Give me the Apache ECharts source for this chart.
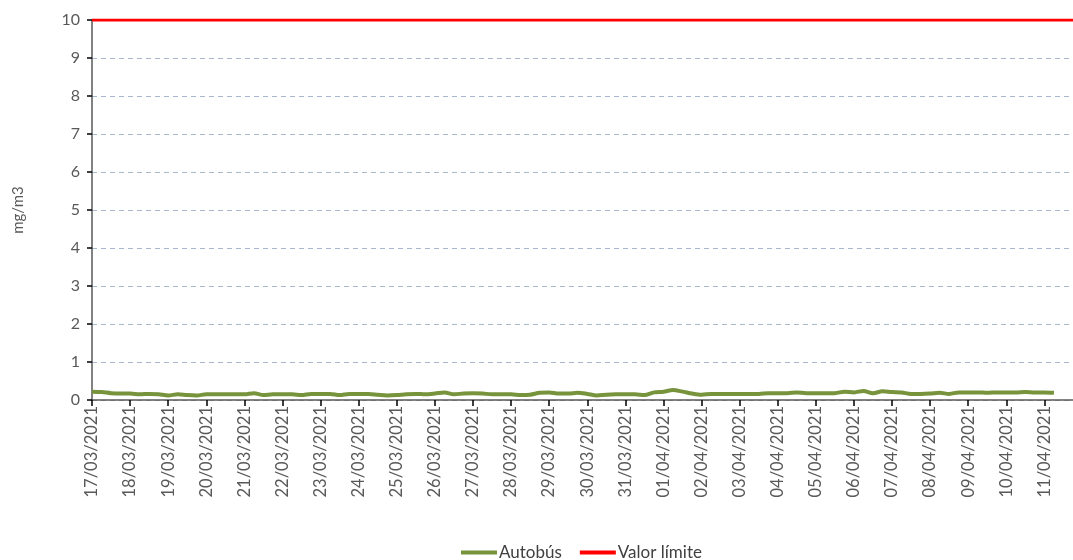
<!DOCTYPE html>
<html>
<head>
<meta charset="utf-8">
<script src="https://cdn.jsdelivr.net/npm/echarts@6/dist/echarts.min.js"></script>
<style>
  html, body { margin: 0; padding: 0; background: #fff; }
  #chart { width: 1073px; height: 560px; }
</style>
</head>
<body>
<div id="chart"></div>
<script>
// días mostrados en el eje X
const days = [
  '17/03/2021', '18/03/2021', '19/03/2021', '20/03/2021', '21/03/2021',
  '22/03/2021', '23/03/2021', '24/03/2021', '25/03/2021', '26/03/2021',
  '27/03/2021', '28/03/2021', '29/03/2021', '30/03/2021', '31/03/2021',
  '01/04/2021', '02/04/2021', '03/04/2021', '04/04/2021', '05/04/2021',
  '06/04/2021', '07/04/2021', '08/04/2021', '09/04/2021', '10/04/2021',
  '11/04/2021'
]
// horas de cada lectura dentro del día
const hours = ['00:00', '06:00', '12:00', '18:00']

// Autobús (mg/m3), 4 lecturas por día
const autobus = [
  [0.22, 0.21, 0.18, 0.17],
  [0.17, 0.15, 0.16, 0.15],
  [0.12, 0.15, 0.13, 0.12],
  [0.15, 0.15, 0.15, 0.15],
  [0.15, 0.18, 0.13, 0.15],
  [0.15, 0.15, 0.13, 0.16],
  [0.16, 0.16, 0.13, 0.16],
  [0.16, 0.16, 0.14, 0.12],
  [0.13, 0.15, 0.16, 0.15],
  [0.17, 0.2, 0.15, 0.17],
  [0.18, 0.17, 0.15, 0.15],
  [0.15, 0.13, 0.14, 0.19],
  [0.2, 0.17, 0.17, 0.19],
  [0.16, 0.12, 0.14, 0.15],
  [0.15, 0.15, 0.13, 0.2],
  [0.22, 0.26, 0.22, 0.17],
  [0.14, 0.16, 0.16, 0.16],
  [0.16, 0.16, 0.16, 0.18],
  [0.18, 0.18, 0.2, 0.18],
  [0.18, 0.18, 0.18, 0.22],
  [0.2, 0.24, 0.18, 0.23],
  [0.21, 0.2, 0.16, 0.16],
  [0.17, 0.19, 0.16, 0.2],
  [0.2, 0.2, 0.19, 0.2],
  [0.2, 0.2, 0.21, 0.2],
  [0.2, 0.19, null, null]
]
const limite = 10

const categories = []
days.forEach((d) => {
  hours.forEach((h) => categories.push(d + ' ' + h))
})
const autobusData = autobus.flat()
const limiteData = categories.map(() => limite)

const axisGray = '#595959'
const textGray = '#595959'

const myChart = echarts.init(document.getElementById('chart'))
myChart.setOption({
  animation: false,
  textStyle: { fontFamily: 'Lato, sans-serif' },
  grid: {
    left: 92,
    right: 0,
    top: 20,
    bottom: 160
  },
  legend: {
    top: 539,
    left: 456,
    itemWidth: 36,
    itemHeight: 4,
    itemGap: 18,
    icon: 'rect',
    textStyle: { color: '#404040', fontSize: 17, padding: [0, 0, 0, -3] },
    data: ['Autobús', 'Valor límite']
  },
  xAxis: {
    type: 'category',
    boundaryGap: false,
    data: categories,
    axisLine: { lineStyle: { color: axisGray, width: 1.5 } },
    axisTick: {
      length: 6,
      interval: (i) => i % 4 === 0,
      lineStyle: { color: '#000', width: 1.5 }
    },
    axisLabel: {
      rotate: 90,
      interval: (i) => i % 4 === 0,
      formatter: (v) => v.slice(0, 10),
      color: textGray,
      fontSize: 16.5,
      margin: 6
    },
    splitLine: { show: false }
  },
  yAxis: {
    type: 'value',
    min: 0,
    max: 10,
    interval: 1,
    name: 'mg/m3',
    nameLocation: 'middle',
    nameGap: 66,
    nameTextStyle: { color: textGray, fontSize: 15 },
    axisLine: { show: true, lineStyle: { color: axisGray, width: 1.5 } },
    axisTick: { show: true, length: 5, lineStyle: { color: '#000', width: 1.5 } },
    axisLabel: { color: textGray, fontSize: 16, margin: 12 },
    splitLine: {
      lineStyle: { color: '#a9b8cf', type: [5, 4], width: 1 }
    }
  },
  series: [
    {
      name: 'Autobús',
      type: 'line',
      data: autobusData,
      smooth: 0.3,
      showSymbol: false,
      connectNulls: false,
      itemStyle: { color: '#77933c' },
      lineStyle: { color: '#77933c', width: 4 }
    },
    {
      name: 'Valor límite',
      type: 'line',
      data: limiteData,
      showSymbol: false,
      itemStyle: { color: '#ff0000' },
      lineStyle: { color: '#ff0000', width: 3 }
    }
  ]
})
</script>
</body>
</html>
